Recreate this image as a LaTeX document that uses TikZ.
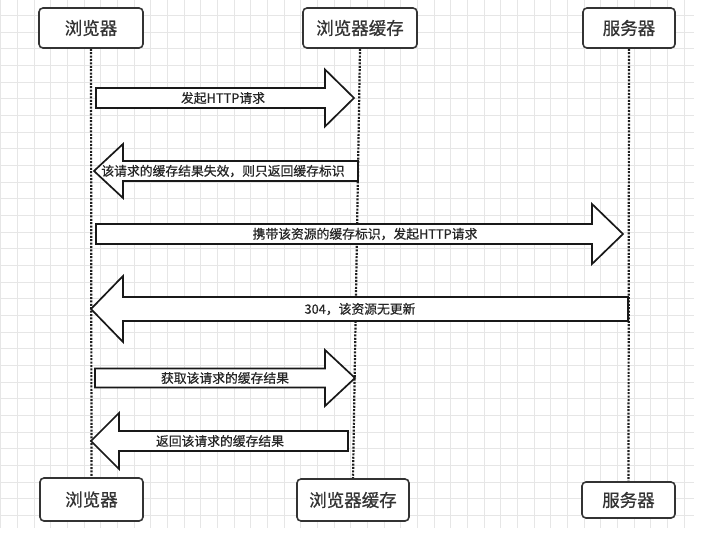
\documentclass[tikz,border=0pt]{standalone}
\usepackage{fontspec}
\setmainfont{Noto Sans CJK SC}[FakeBold=0.6]
\definecolor{gridc}{HTML}{E6E6E6}
\definecolor{boxc}{HTML}{333333}
\definecolor{linec}{HTML}{1E1E1E}
\definecolor{txtc}{HTML}{262626}
\tikzset{
  actor/.style={draw=boxc, line width=1.6pt, fill=white, rounded corners=4pt, text=boxc,
    font=\fontsize{17.5}{20}\selectfont, inner sep=0pt},
  lifeline/.style={draw=linec, line width=2.2pt, dash pattern=on 2pt off 1.4pt},
  blockarrow/.style={draw=black!90, line width=1.7pt, fill=white, line join=miter},
  alabel/.style={text=txtc, font=\fontsize{12.8}{14}\selectfont, inner sep=0pt}
}
% right-pointing block arrow: #1 y, #2 x start, #3 x head back, #4 x tip, #5 shaft half, #6 head half
\newcommand\blockR[6]{%
  \draw[blockarrow] (#2,#1-#5) -- (#3,#1-#5) -- (#3,#1-#6) -- (#4,#1) -- (#3,#1+#6) -- (#3,#1+#5) -- (#2,#1+#5) -- cycle;}
% left-pointing block arrow: #1 y, #2 x tip, #3 x head back, #4 x end, #5 shaft half, #6 head half
\newcommand\blockL[6]{%
  \draw[blockarrow] (#4,#1-#5) -- (#3,#1-#5) -- (#3,#1-#6) -- (#2,#1) -- (#3,#1+#6) -- (#3,#1+#5) -- (#4,#1+#5) -- cycle;}
\begin{document}
\begin{tikzpicture}[x=1pt,y=-1pt]
\useasboundingbox (0,0) rectangle (712,543);
\fill[white] (0,0) rectangle (712,543);
% grid
\begin{scope}
\clip (0,0) rectangle (694,528);
\foreach \k in {0,...,41} {\draw[gridc, line width=0.8pt] ({0.7+16.667*\k},0) -- ({0.7+16.667*\k},528);}
\foreach \k in {1,...,31} {\draw[gridc, line width=0.8pt] (0,{-1.4+16.667*\k}) -- (694,{-1.4+16.667*\k});}
\end{scope}
% actors
\node[actor, minimum width=104pt, minimum height=40pt] (b1) at (91,28) {浏览器};
\node[actor, minimum width=114pt, minimum height=40pt] (c1) at (360,28) {浏览器缓存};
\node[actor, minimum width=92pt, minimum height=40pt] (s1) at (629,28) {服务器};
\node[actor, minimum width=103pt, minimum height=43pt] (b2) at (91.5,499.5) {浏览器};
\node[actor, minimum width=112pt, minimum height=42pt] (c2) at (353,500) {浏览器缓存};
\node[actor, minimum width=93pt, minimum height=36pt] (s2) at (628.5,500) {服务器};
% lifelines
\draw[lifeline] (b1.south) -- (b2.north);
\draw[lifeline] (c1.south) -- (c2.north);
\draw[lifeline] (s1.south) -- (s2.north);
% messages
\blockR{98}{96}{325}{354}{10}{28.5}
\node[alabel] (m1) at (223,98) {发起HTTP请求};
\blockL{171}{94}{123}{358}{10}{27}
\node[alabel] (m2) at (223,171) {该请求的缓存结果失效，则只返回缓存标识};
\blockR{234}{96}{592}{623}{10}{30}
\node[alabel] (m3) at (365,234) {携带该资源的缓存标识，发起HTTP请求};
\blockL{309}{91}{123}{628}{12}{33}
\node[alabel] (m4) at (360,309) {304，该资源无更新};
\blockR{378}{95}{325}{355}{9.5}{28}
\node[alabel] (m5) at (225,378) {获取该请求的缓存结果};
\blockL{441}{91}{119}{348}{10}{28}
\node[alabel] (m6) at (220,441) {返回该请求的缓存结果};
\end{tikzpicture}
\end{document}
